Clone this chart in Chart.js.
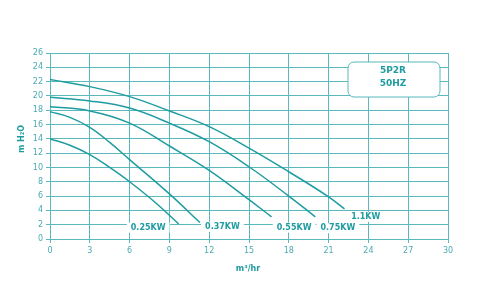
<!DOCTYPE html>
<html lang="en">
<head>
    <meta charset="UTF-8">
    <title>5P2R 50HZ</title>
    <script src="https://cdn.jsdelivr.net/npm/chart.js"></script>
    <style>
        body { margin: 0; padding: 0; background: #fff; }
        #wrap { width: 487px; height: 303px; }
    </style>
</head>
<body>
<div id="wrap"><canvas id="pumpChart" width="487" height="303"></canvas></div>
<script>
    // Flow (m3/hr) and head (m H2O)
    const seriesNames = ['0.25KW', '0.37KW', '0.55KW', '0.75KW', '1.1KW'];
    const flow025 = [0, 1.5, 3, 4.5, 6, 8, 9.7];
    const head025 = [14.0, 13.1, 11.8, 10.0, 8.0, 5.0, 2.1];
    const flow037 = [0, 1.5, 3, 4.5, 6, 9, 11.3];
    const head037 = [17.8, 17.0, 15.6, 13.5, 11.1, 6.3, 2.3];
    const flow055 = [0, 3, 6, 9, 12, 15, 16.7];
    const head055 = [18.5, 17.9, 16.2, 13.0, 9.6, 5.5, 3.1];
    const flow075 = [0, 3, 6, 9, 12, 15, 18, 20];
    const head075 = [19.8, 19.3, 18.3, 16.2, 13.6, 10.1, 6.0, 3.1];
    const flow110 = [0, 3, 6, 9, 12, 15, 18, 21, 22.2];
    const head110 = [22.3, 21.3, 19.9, 17.9, 15.7, 12.7, 9.4, 5.9, 4.2];
    const xTicks = [0, 3, 6, 9, 12, 15, 18, 21, 24, 27, 30];
    const yTicks = [0, 2, 4, 6, 8, 10, 12, 14, 16, 18, 20, 22, 24, 26];

    const teal = '#1f9ca1';
    const gridTeal = '#5bb8bd';
    const textTeal = '#4aaab2';

    function pts(xs, ys) {
        return xs.map((x, i) => ({ x: x, y: ys[i] }));
    }
    const curves = [
        pts(flow025, head025), pts(flow037, head037), pts(flow055, head055),
        pts(flow075, head075), pts(flow110, head110)
    ];

    // where each curve's name sits (data units)
    const labelSpots = [[7.4, 1.6], [13.0, 1.7], [18.4, 1.6], [21.7, 1.5], [23.8, 3.1]];

    const textPlugin = {
        id: 'textPlugin',
        afterDraw(chart) {
            const c = chart.ctx;
            const xs = chart.scales.x, ys = chart.scales.y;
            c.save();
            c.textAlign = 'center';
            c.textBaseline = 'middle';
            c.font = 'bold 8px "DejaVu Sans"';
            seriesNames.forEach((name, i) => {
                const px = xs.getPixelForValue(labelSpots[i][0]);
                const py = ys.getPixelForValue(labelSpots[i][1]);
                const w = c.measureText(name).width + 8;
                c.fillStyle = '#fff';
                c.fillRect(px - w / 2, py - 5, w, 10);
                c.fillStyle = teal;
                c.fillText(name, px, py);
            });

            // model box
            const bx = 348, by = 62, bw = 92, bh = 35, r = 6;
            c.beginPath();
            c.moveTo(bx + r, by);
            c.arcTo(bx + bw, by, bx + bw, by + bh, r);
            c.arcTo(bx + bw, by + bh, bx, by + bh, r);
            c.arcTo(bx, by + bh, bx, by, r);
            c.arcTo(bx, by, bx + bw, by, r);
            c.closePath();
            c.fillStyle = '#fff';
            c.fill();
            c.strokeStyle = gridTeal;
            c.lineWidth = 1;
            c.stroke();
            c.fillStyle = teal;
            c.font = 'bold 9px "DejaVu Sans"';
            c.fillText('5P2R', 393, 71);
            c.fillText('50HZ', 393, 84);

            // axis titles
            c.font = 'bold 8px "DejaVu Sans"';
            c.fillText('m³/hr', 248, 269);
            c.translate(22, 139);
            c.rotate(-Math.PI / 2);
            c.fillText('m H₂O', 0, 0);
            c.restore();
        }
    };

    const ctx = document.getElementById('pumpChart').getContext('2d');
    new Chart(ctx, {
        type: 'line',
        data: {
            datasets: curves.map((d, i) => ({
                label: seriesNames[i],
                data: d,
                borderColor: teal,
                borderWidth: 1.5,
                pointRadius: 0,
                fill: false,
                tension: 0.4
            }))
        },
        options: {
            responsive: false,
            animation: false,
            layout: { padding: { left: 0, right: 39, top: 53, bottom: 24 } },
            plugins: { legend: { display: false }, tooltip: { enabled: false } },
            scales: {
                x: {
                    type: 'linear',
                    min: 0, max: 30,
                    afterBuildTicks: s => { s.ticks = xTicks.map(v => ({ value: v })); },
                    afterFit: s => { s.height = 40; },
                    grid: { color: gridTeal, lineWidth: 1, tickLength: 4, drawTicks: true },
                    border: { color: gridTeal },
                    ticks: { color: textTeal, font: { family: 'DejaVu Sans', size: 8 }, padding: 3, maxRotation: 0 }
                },
                y: {
                    min: 0, max: 26,
                    afterBuildTicks: s => { s.ticks = yTicks.map(v => ({ value: v })); },
                    afterFit: s => { s.width = 50; },
                    grid: { color: gridTeal, lineWidth: 1, tickLength: 4, drawTicks: true },
                    border: { color: gridTeal },
                    ticks: { color: textTeal, font: { family: 'DejaVu Sans', size: 8 }, padding: 3 }
                }
            }
        },
        plugins: [textPlugin]
    });
</script>
</body>
</html>
